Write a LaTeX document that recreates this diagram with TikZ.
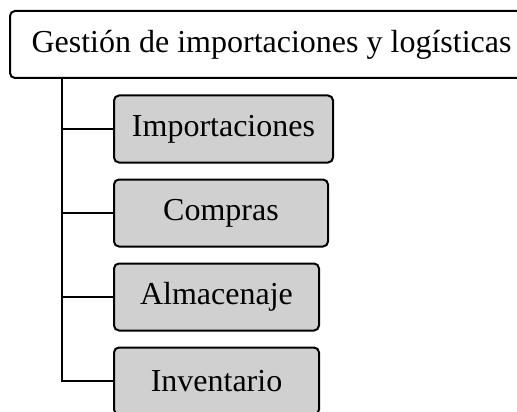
\documentclass[tikz,border=0pt]{standalone}
\usepackage{fontspec}
\setmainfont{Liberation Serif}

\definecolor{boxgray}{RGB}{208,208,208}

\tikzset{every node/.style={draw, rounded corners=5pt, line width=2pt, minimum height=67pt, inner sep=0pt, font=\fontsize{32}{38}\selectfont}}

\begin{document}
\begin{tikzpicture}[x=1pt, y=1pt, line width=2pt, child/.style={fill=boxgray}]
			% Fix the visible area
			\useasboundingbox (0,0) rectangle (517,-412);
			\clip (0,0) rectangle (517,-412);
			
			% Define boxes
			\node[fill=white, minimum width=523pt] (root) at (271.5,-44.5) {Gestión de importaciones y logísticas};
			\node[child, minimum width=219pt] (imp) at (223.5,-129) {Importaciones};
			\node[child, minimum width=214pt] (com) at (221,-213) {Compras};
			\node[child, minimum width=205pt] (alm) at (216.5,-297) {Almacenaje};
			\node[child, minimum width=205pt] (inv) at (216.5,-381) {Inventario};
			
			% Trunk below the root
			\coordinate (trunk) at (62,-77);
			
			% Connect each box to the trunk
			\draw (trunk) |- (imp.west);
			\draw (trunk) |- (com.west);
			\draw (trunk) |- (alm.west);
			\draw (trunk) |- (inv.west);
		\end{tikzpicture}
\end{document}
